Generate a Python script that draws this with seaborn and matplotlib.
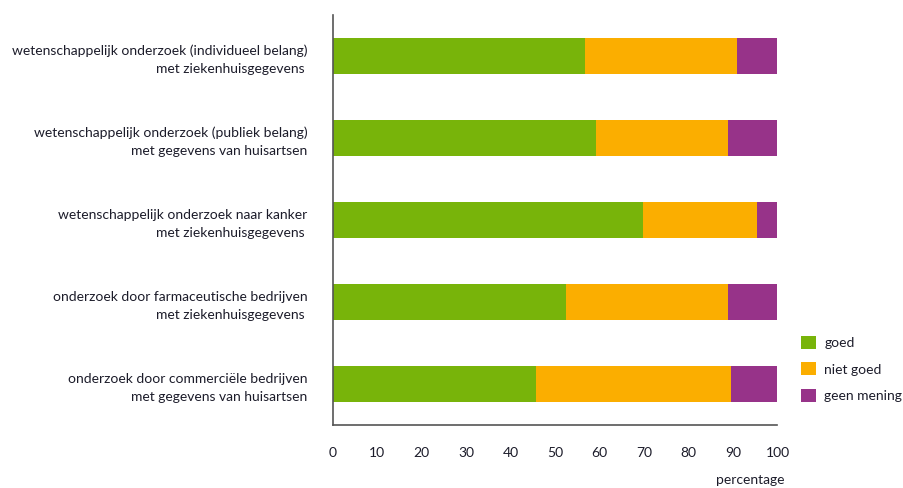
import pandas as pd
import matplotlib.pyplot as plt
import seaborn as sns
from matplotlib.patches import Patch

# data
labels = [
    "wetenschappelijk onderzoek (individueel belang)\nmet ziekenhuisgegevens ",
    "wetenschappelijk onderzoek (publiek belang)\nmet gegevens van huisartsen",
    "wetenschappelijk onderzoek naar kanker\nmet ziekenhuisgegevens ",
    "onderzoek door farmaceutische bedrijven\nmet ziekenhuisgegevens ",
    "onderzoek door commerciële bedrijven\nmet gegevens van huisartsen",
]
goed = [56.7, 59.2, 69.7, 52.5, 45.8]
niet_goed = [34.1, 29.6, 25.8, 36.3, 43.8]
geen_mening = [9.2, 11.2, 4.5, 11.2, 10.4]
series = ["goed", "niet goed", "geen mening"]
colors = ["#78b40a", "#fbae00", "#973389"]

df = pd.DataFrame({"label": labels, "goed": goed, "niet goed": niet_goed, "geen mening": geen_mening})
# cumulative sums for stacking (draw widest first)
df["c1"] = df["goed"]
df["c2"] = df["goed"] + df["niet goed"]
df["c3"] = df["c2"] + df["geen mening"]

sns.set_style("white")
plt.rcParams["font.family"] = ["Lato", "DejaVu Sans"]
txt = "#1c1c2a"
fs = 10

fig = plt.figure(figsize=(9.04, 4.88), dpi=100)
ax = fig.add_axes([0.368, 0.129, 0.492, 0.840])

for col, c in zip(["c3", "c2", "c1"], colors[::-1]):
    sns.barplot(data=df, x=col, y="label", color=c, width=0.43, saturation=1,
                orient="h", ax=ax, edgecolor="none")

ax.set_xlim(0, 100)
ax.set_ylim(4.5, -0.5)
ax.set_xticks(range(0, 101, 10))
ax.set_xlabel("")
ax.set_ylabel("")
ax.set_yticks([-0.5, 0.5, 1.5, 2.5, 3.5, 4.5], minor=True)
ax.tick_params(axis="y", which="major", length=0, pad=18, labelsize=fs, labelcolor=txt)
ax.tick_params(axis="y", which="minor", length=6, width=1, color="#555555", direction="out")
ax.tick_params(axis="x", length=6, width=1, color="#555555", direction="out",
               labelsize=fs, labelcolor=txt, pad=10)
for t in ax.get_yticklabels():
    t.set_horizontalalignment("right")
    t.set_multialignment("right")
    t.set_linespacing(1.6)
for s in ["top", "right"]:
    ax.spines[s].set_visible(False)
for s in ["left", "bottom"]:
    ax.spines[s].set_color("#555555")
    ax.spines[s].set_linewidth(1.2)

fig.text(0.868, 0.016, "percentage", ha="right", va="center", fontsize=fs, color=txt)

handles = [Patch(facecolor=c, edgecolor="none", label=s) for s, c in zip(series, colors)]
fig.legend(handles=handles, loc="upper left", bbox_to_anchor=(0.872, 0.338),
           frameon=False, fontsize=fs, handlelength=1.1, handleheight=1.1,
           handletextpad=0.6, labelspacing=0.95, labelcolor=txt)

fig.savefig("out.png", dpi=100)
